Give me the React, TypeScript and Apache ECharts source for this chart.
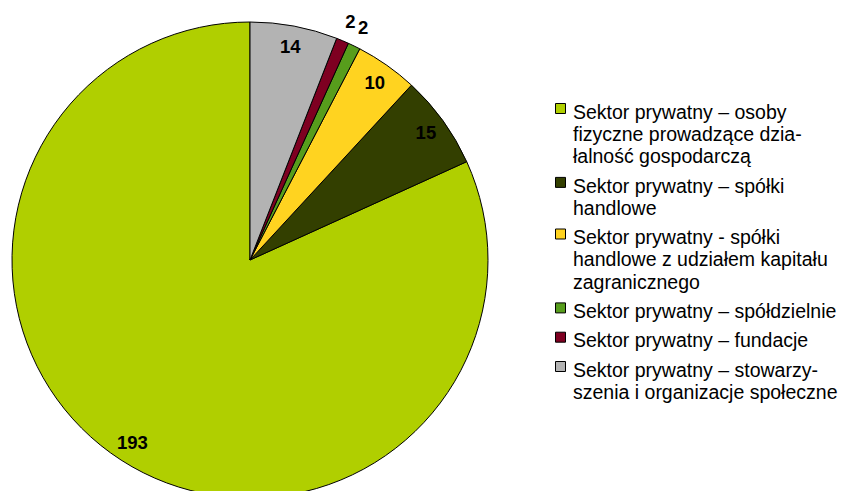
import React, { useEffect, useRef } from 'react';
import * as echarts from 'echarts';

const categories = [
  'Sektor prywatny – osoby\nfizyczne prowadzące dzia-\nłalność gospodarczą',
  'Sektor prywatny – spółki\nhandlowe',
  'Sektor prywatny - spółki\nhandlowe z udziałem kapitału\nzagranicznego',
  'Sektor prywatny – spółdzielnie',
  'Sektor prywatny – fundacje',
  'Sektor prywatny – stowarzy-\nszenia i organizacje społeczne',
];
const values = [193, 15, 10, 2, 2, 14];
const colors = ['#B0CF00', '#333F00', '#FFD320', '#579D1C', '#7E0021', '#B3B3B3'];

export default function App() {
  const ref = useRef<HTMLDivElement>(null);
  useEffect(() => {
    const chart = echarts.init(ref.current!, null, { renderer: 'svg' });
    const total = values.reduce((a, b) => a + b, 0);
    const font = 'Liberation Sans, Arial, Helvetica, sans-serif';
    const center = [250, 260];
    const R = 238;
    const isSmall = (v: number) => v / total < 0.02;

    const labelRing = (radius: number[], small: boolean) => ({
      type: 'pie',
      center,
      radius,
      clockwise: false,
      startAngle: 90,
      silent: true,
      z: 3,
      avoidLabelOverlap: false,
      itemStyle: { color: 'rgba(0,0,0,0)', borderWidth: 0 },
      labelLine: { show: false },
      emphasis: { disabled: true },
      label: {
        position: 'inside',
        color: '#000',
        fontWeight: 'bold',
        fontSize: 18.5,
        fontFamily: font,
        formatter: '{c}',
      },
      data: categories.map((name, i) => ({
        name,
        value: values[i],
        label: { show: isSmall(values[i]) === small },
      })),
    });

    const legendChildren: any[] = [];
    const lineH = 22.3;
    const gap = 7;
    let top = 100.5;
    categories.forEach((name, i) => {
      const n = name.split('\n').length;
      legendChildren.push({
        type: 'rect',
        shape: { x: 555.5, y: top + 3, width: 10, height: 10 },
        style: { fill: colors[i], stroke: '#000', lineWidth: 1 },
      });
      legendChildren.push({
        type: 'text',
        x: 573,
        y: top,
        style: {
          text: name,
          fontFamily: font,
          fontSize: 19.5,
          lineHeight: lineH,
          fill: '#000',
          verticalAlign: 'top',
          align: 'left',
        },
      });
      top += n * lineH + gap;
    });

    chart.setOption({
      animation: false,
      backgroundColor: '#fff',
      series: [
        {
          type: 'pie',
          center,
          radius: [0, R],
          clockwise: false,
          startAngle: 90,
          silent: true,
          avoidLabelOverlap: false,
          label: { show: false },
          labelLine: { show: false },
          itemStyle: { borderColor: '#000', borderWidth: 1 },
          emphasis: { disabled: true },
          data: categories.map((name, i) => ({
            name,
            value: values[i],
            itemStyle: { color: colors[i] },
          })),
        },
        labelRing([188, 240], false),
        labelRing([246, 265], true),
      ],
      graphic: legendChildren,
    });
    return () => chart.dispose();
  }, []);
  return (
    <div
      ref={ref}
      style={{ position: 'fixed', left: 0, top: 0, width: 842, height: 491, background: '#fff' }}
    />
  );
}
